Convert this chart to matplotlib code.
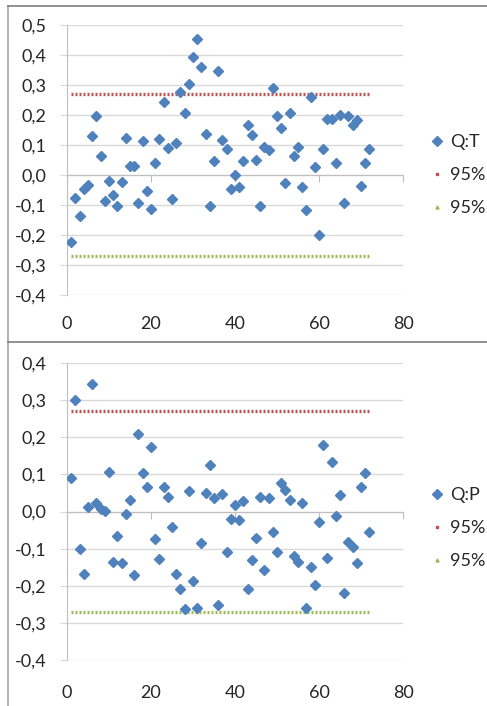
import matplotlib
matplotlib.use("Agg")
import matplotlib.pyplot as plt
from matplotlib.lines import Line2D
import numpy as np

plt.rcParams['font.family'] = ['Lato', 'DejaVu Sans']

# lags 1..72
lags = list(range(1, 73))

qt = [-0.222, -0.076, -0.137, -0.048, -0.033, 0.130, 0.198, 0.063, -0.087, -0.019,
      -0.066, -0.102, -0.024, 0.125, 0.030, 0.030, -0.092, 0.113, -0.052, -0.114,
      0.041, 0.120, 0.245, 0.091, -0.079, 0.108, 0.278, 0.208, 0.303, 0.394,
      0.453, 0.361, 0.136, -0.103, 0.046, 0.347, 0.116, 0.087, -0.046, 0.000,
      -0.041, 0.048, 0.166, 0.134, 0.050, -0.103, 0.094, 0.083, 0.289, 0.198,
      0.157, -0.028, 0.208, 0.064, 0.094, -0.041, -0.117, 0.261, 0.028, -0.200,
      0.086, 0.187, 0.187, 0.039, 0.200, -0.094, 0.196, 0.167, 0.183, -0.036,
      0.041, 0.087]

qp = [0.090, 0.300, -0.100, -0.169, 0.012, 0.344, 0.023, 0.006, 0.001, 0.107,
      -0.137, -0.067, -0.139, -0.007, 0.032, -0.171, 0.209, 0.104, 0.065, 0.175,
      -0.073, -0.128, 0.067, 0.039, -0.042, -0.168, -0.208, -0.263, 0.054, -0.187,
      -0.261, -0.085, 0.050, 0.125, 0.036, -0.253, 0.048, -0.108, -0.020, 0.018,
      -0.024, 0.027, -0.208, -0.130, -0.072, 0.039, -0.157, 0.036, -0.054, -0.108,
      0.078, 0.057, 0.032, -0.121, -0.137, 0.024, -0.261, -0.150, -0.198, -0.029,
      0.178, -0.126, 0.133, -0.011, 0.045, -0.220, -0.081, -0.096, -0.139, 0.066,
      0.105, -0.056]

upper = [0.27] * 72
lower = [-0.27] * 72

xticks = [0, 20, 40, 60, 80]
yticks_top = [-0.4, -0.3, -0.2, -0.1, 0.0, 0.1, 0.2, 0.3, 0.4, 0.5]
yticks_bot = [-0.4, -0.3, -0.2, -0.1, 0.0, 0.1, 0.2, 0.3, 0.4]

BLUE = '#4F81BD'
RED = '#C0504D'
GREEN = '#9BBB59'
GRID = '#D9D9D9'
TXT = '#262626'

fig = plt.figure(figsize=(4.87, 7.06), dpi=100)


def panel(rect, yvals, yticks, name, xpad, legend_y):
    ax = fig.add_axes(rect)
    ax.set_xlim(0, 80)
    ax.set_ylim(yticks[0], yticks[-1])
    for t in yticks:
        ax.axhline(t, color=GRID, lw=1, zorder=0)
    ax.plot(lags, upper, color=RED, lw=2.4, linestyle=(0, (0.6, 0.6)), zorder=2)
    ax.plot(lags, lower, color=GREEN, lw=2.4, linestyle=(0, (0.6, 0.6)), zorder=2)
    ax.plot(lags, yvals, linestyle='none', marker='D', ms=4.6,
            color=BLUE, mec=BLUE, zorder=3)

    for s in ['top', 'right']:
        ax.spines[s].set_visible(False)
    ax.spines['left'].set_color('#BFBFBF')
    ax.spines['bottom'].set_color('#BFBFBF')
    ax.spines['bottom'].set_position(('data', 0))
    ax.set_yticks(yticks)
    ax.set_yticklabels([('%.1f' % t).replace('.', ',') for t in yticks])
    ax.tick_params(axis='y', length=5, color=GRID, pad=9.5,
                   labelsize=13, labelcolor=TXT)
    ax.set_xticks(xticks)
    ax.tick_params(axis='x', length=5, color='#BFBFBF', direction='out',
                   labelbottom=False)

    sec = ax.secondary_xaxis(0)
    sec.spines['bottom'].set_visible(False)
    sec.set_xticks(xticks)
    sec.set_xticklabels([str(t) for t in xticks])
    sec.tick_params(length=0, pad=xpad, labelsize=13, labelcolor=TXT)

    handles = [
        Line2D([], [], linestyle='none', marker='D', ms=4.6, color=BLUE),
        Line2D([], [], linestyle='none', marker='s', ms=1.8, color=RED),
        Line2D([], [], linestyle='none', marker='^', ms=2.2, color=GREEN),
    ]
    fig.legend(handles, [name, '95%', '95%'], loc='center left',
               bbox_to_anchor=(0.885, legend_y), frameon=False,
               fontsize=13, labelcolor=TXT, handlelength=0.7,
               handletextpad=0.35, labelspacing=0.95, borderpad=0,
               borderaxespad=0)
    return ax


panel([67 / 487, 1 - 295 / 706, 336 / 487, 270 / 706], qt, yticks_top,
      'Q:T', 15, 1 - 175 / 706)
panel([67 / 487, 1 - 660 / 706, 336 / 487, 297 / 706], qp, yticks_bot,
      'Q:P', 18, 1 - 528 / 706)

# frame lines of the two chart boxes
fig.add_artist(Line2D([8 / 487, 8 / 487], [0, 1 - 6 / 706],
                      transform=fig.transFigure, color='#A6A6A6', lw=1.2))
fig.add_artist(Line2D([8 / 487, 1], [1 - 6 / 706, 1 - 6 / 706],
                      transform=fig.transFigure, color='#7F7F7F', lw=1.2))
fig.add_artist(Line2D([8 / 487, 1], [1 - 342 / 706, 1 - 342 / 706],
                      transform=fig.transFigure, color='#7F7F7F', lw=1.2))

fig.savefig('out.png', dpi=100)
